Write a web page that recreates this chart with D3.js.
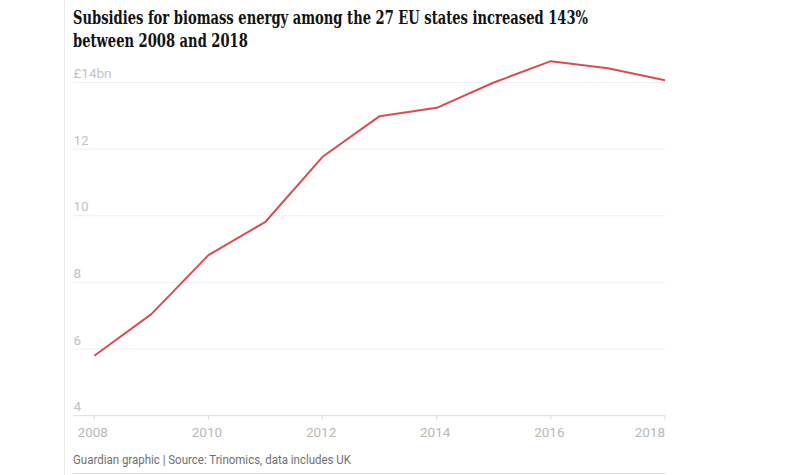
<!DOCTYPE html>
<html><head><meta charset="utf-8">
<script src="https://cdn.jsdelivr.net/npm/d3@7"></script>
<style>body{margin:0;background:#fff}svg{display:block}</style>
</head><body><svg id="c" width="800" height="475"></svg>
<script>
const years = [2008,2009,2010,2011,2012,2013,2014,2015,2016,2017,2018];
const subsidies = [5.80,7.05,8.82,9.82,11.77,12.99,13.24,14.00,14.64,14.43,14.07];
const yTicks = [4,6,8,10,12,14];
const xTicks = [2008,2010,2012,2014,2016,2018];
const titleLines = ["Subsidies for biomass energy among the 27 EU states increased 143%","between 2008 and 2018"];
const sourceText = "Guardian graphic | Source: Trinomics, data includes UK";

const svg = d3.select("#c");
const x = d3.scaleLinear().domain([2008,2018]).range([94.3,665]);
const y = d3.scaleLinear().domain([4,14]).range([415.7,82.5]);
const sans = "Roboto,'Liberation Sans',sans-serif";

// left border
svg.append("line").attr("x1",64.5).attr("x2",64.5).attr("y1",0).attr("y2",475)
  .attr("stroke","#ececec").attr("stroke-width",1);

// title
const t = svg.append("text").attr("font-family","'DejaVu Serif Condensed','DejaVu Serif',serif")
  .attr("font-weight","bold").attr("font-size",18.5).attr("fill","#121212");
const spans = [];
titleLines.forEach((l,i)=>{
  spans.push(t.append("tspan").attr("x",73).attr("y",24+i*22.5).text(l));
});
const w0 = spans[0].node().getComputedTextLength();
const ratio = 515 / w0;
spans.forEach(s=>{
  const w = s.node().getComputedTextLength();
  s.attr("textLength", w*ratio).attr("lengthAdjust","spacingAndGlyphs");
});

// gridlines
const grid = svg.append("g");
yTicks.forEach(v=>{
  grid.append("line").attr("x1",73).attr("x2",665).attr("y1",y(v)).attr("y2",y(v))
    .attr("stroke", v===4 ? "#dcdcdc" : "#f0f0f0").attr("stroke-width",1);
  grid.append("text").attr("x",73.5).attr("y",y(v)-4.5)
    .attr("font-family",sans).attr("font-size",13.5)
    .attr("fill","#c2c2c2").text(v===14 ? "£14bn" : v);
});

// x axis ticks
xTicks.forEach((v,i)=>{
  grid.append("line").attr("x1",x(v)).attr("x2",x(v)).attr("y1",y(4)).attr("y2",y(4)+4)
    .attr("stroke","#dcdcdc");
  grid.append("text").attr("x", i===xTicks.length-1 ? x(v) : x(v)-1.5).attr("y",437)
    .attr("text-anchor", i===xTicks.length-1 ? "end" : "middle")
    .attr("font-family",sans).attr("font-size",13.5)
    .attr("fill","#b8b8b8").text(v);
});

// line
const line = d3.line().x((d,i)=>x(years[i])).y(d=>y(d));
svg.append("path").datum(subsidies).attr("d",line).attr("fill","none")
  .attr("stroke","#dd4b51").attr("stroke-width",2).attr("stroke-linejoin","round");

// source
const src = svg.append("text").attr("x",73).attr("y",463.5)
  .attr("font-family",sans).attr("font-size",12)
  .attr("fill","#707070").text(sourceText);
src.attr("textLength",278).attr("lengthAdjust","spacingAndGlyphs");
svg.append("line").attr("x1",73).attr("x2",665).attr("y1",473.5).attr("y2",473.5)
  .attr("stroke","#dcdcdc");
</script></body></html>
